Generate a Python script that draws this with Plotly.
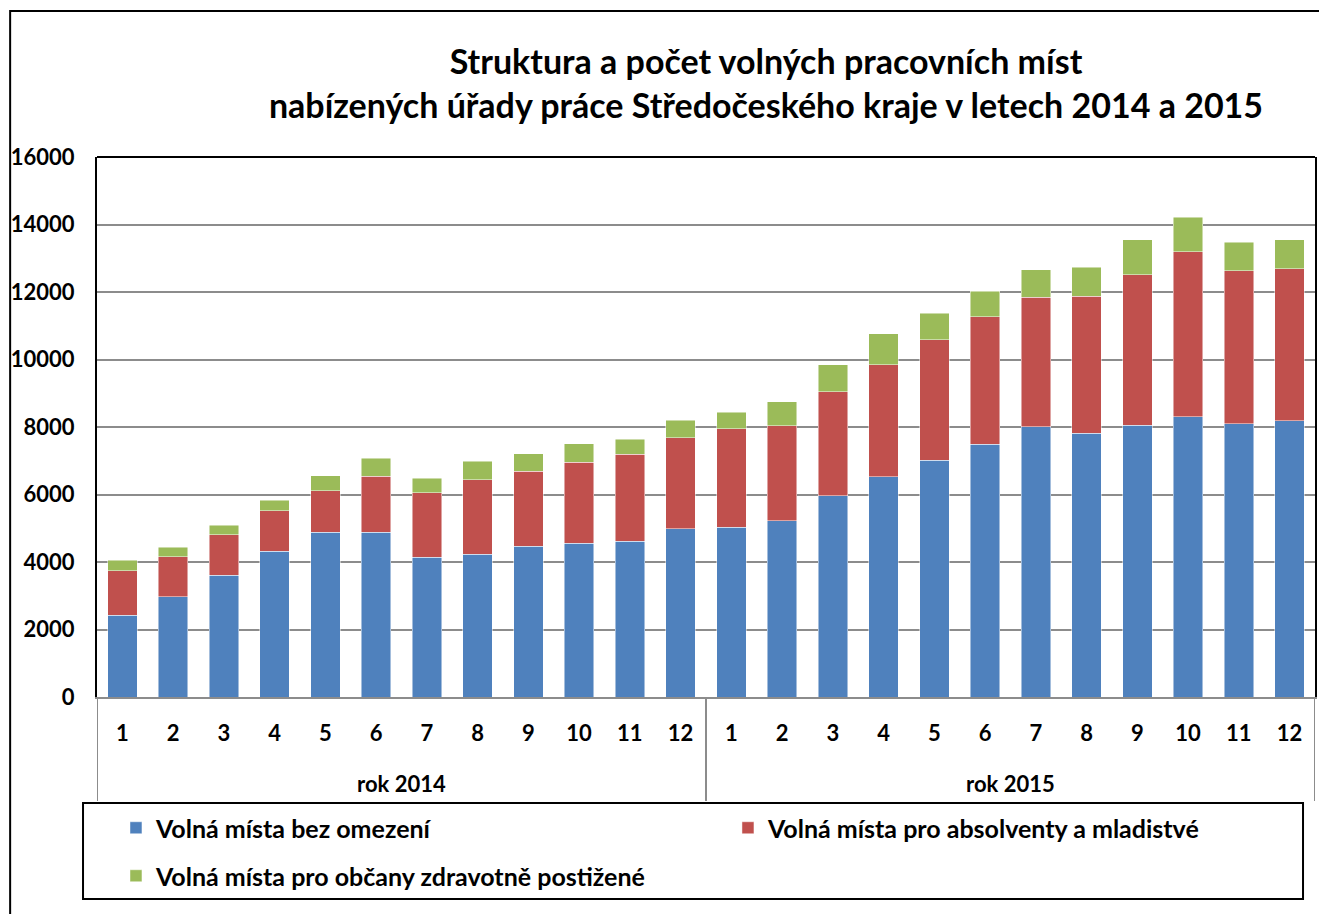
import plotly.graph_objects as go

months = ["1", "2", "3", "4", "5", "6", "7", "8", "9", "10", "11", "12"]
years = ["rok 2014", "rok 2015"]

bez_omezeni_2014 = [2420, 2973, 3605, 4316, 4879, 4879, 4138, 4227, 4464, 4563, 4612, 4988]
absolventi_2014 = [1322, 1185, 1205, 1205, 1235, 1659, 1916, 2212, 2232, 2400, 2588, 2696]
postizene_2014 = [308, 286, 276, 306, 444, 543, 425, 544, 514, 543, 444, 523]

bez_omezeni_2015 = [5037, 5215, 5965, 6519, 7022, 7486, 8010, 7822, 8059, 8306, 8099, 8187]
absolventi_2015 = [2904, 2824, 3082, 3328, 3566, 3783, 3833, 4050, 4455, 4889, 4533, 4504]
postizene_2015 = [503, 702, 800, 909, 780, 751, 809, 859, 1027, 1027, 849, 850]

series_names = [
    "Volná místa bez omezení",
    "Volná místa pro absolventy a mladistvé",
    "Volná místa pro občany zdravotně postižené",
]
colors = ["#4F81BD", "#C0504D", "#9BBB59"]

# unique category keys (year + month), shown with month tick labels
cats = [f"{y} | {m}" for y in years for m in months]
tick_text = months * len(years)

data = [
    bez_omezeni_2014 + bez_omezeni_2015,
    absolventi_2014 + absolventi_2015,
    postizene_2014 + postizene_2015,
]

FONT = "Lato"
fig = go.Figure()
legends = ["legend", "legend2", "legend3"]
for name, vals, col, lg in zip(series_names, data, colors, legends):
    fig.add_trace(go.Bar(
        x=cats, y=vals, name=name, legend=lg,
        marker=dict(color=col, line=dict(color="rgba(255,255,255,0.6)", width=0.8)),
    ))

# geometry in pixels
W, H = 1319, 914
L, R, T, B = 97, 1317, 157, 697
pw, ph = R - L, B - T

def px(xp):
    return (xp - L) / pw

def py(yp):
    return (B - yp) / ph

legfont = dict(family=FONT, size=25, color="black", weight="bold")
def leg(xp, yp):
    return dict(
        orientation="h",
        x=px(xp), xanchor="left",
        y=py(yp), yanchor="middle",
        font=legfont,
        bgcolor="rgba(0,0,0,0)",
        itemclick=False, itemdoubleclick=False,
    )

fig.update_layout(
    width=W, height=H,
    margin=dict(l=L, r=W - R, t=T, b=H - B, pad=0),
    barmode="stack",
    bargap=0.42,
    plot_bgcolor="white",
    paper_bgcolor="white",
    font=dict(family=FONT, color="black", size=22, weight="bold"),
    title=dict(
        text="Struktura a počet volných pracovních míst<br>nabízených úřady práce Středočeského kraje v letech 2014 a 2015",
        x=766 / W, xanchor="center",
        y=1 - 74 / H, yanchor="top",
        font=dict(family=FONT, size=34, color="black", weight="bold"),
    ),
    legend=leg(116, 828),
    legend2=leg(729, 828),
    legend3=leg(116, 876),
    showlegend=True,
)

fig.update_yaxes(
    range=[0, 16000],
    dtick=2000,
    showgrid=True, gridcolor="#8C8C8C", gridwidth=2,
    showline=True, linecolor="black", linewidth=2, mirror=True,
    ticks="", ticklabelstandoff=16,
    tickfont=dict(family=FONT, size=22, color="black", weight="bold"),
    tickformat="d",
    zeroline=False,
)
fig.update_xaxes(
    type="category",
    tickmode="array", tickvals=cats, ticktext=tick_text,
    range=[-0.5, len(cats) - 0.5],
    showline=True, linecolor="#8C8C8C", linewidth=2,
    showgrid=False,
    ticks="", ticklabelstandoff=16,
    tickfont=dict(family=FONT, size=22, color="black", weight="bold"),
)

shapes = [
    # top border of plot area
    dict(type="line", xref="paper", yref="paper", x0=0, x1=1, y0=1, y1=1,
         line=dict(color="black", width=2)),
    # outer chart border
    dict(type="rect", xref="paper", yref="paper",
         x0=px(10), x1=px(1323), y0=py(920), y1=py(11),
         line=dict(color="black", width=2), fillcolor="rgba(0,0,0,0)", layer="above"),
    # legend box
    dict(type="rect", xref="paper", yref="paper",
         x0=px(83), x1=px(1305), y0=py(899), y1=py(803),
         line=dict(color="black", width=2), fillcolor="rgba(0,0,0,0)"),
]
# year group dividers and labels
annotations = []
n = len(months)
for i, yname in enumerate(years):
    start = i * n - 0.5
    shapes.append(dict(type="line", xref="x", yref="paper", x0=start, x1=start,
                       y0=0, y1=py(801), line=dict(color="#8C8C8C", width=2)))
    annotations.append(dict(text=yname, xref="x", yref="paper",
                            x=start + n / 2, y=py(783), xanchor="center", yanchor="middle",
                            showarrow=False,
                            font=dict(family=FONT, size=22, color="black", weight="bold")))
end = len(years) * n - 0.5
shapes.append(dict(type="line", xref="x", yref="paper", x0=end, x1=end,
                   y0=0, y1=py(801), line=dict(color="#8C8C8C", width=2)))
fig.update_layout(shapes=shapes, annotations=annotations)

fig.write_html("out.html", config={"displayModeBar": False},
               post_script="document.body.style.margin='0';document.body.style.overflow='hidden';")
